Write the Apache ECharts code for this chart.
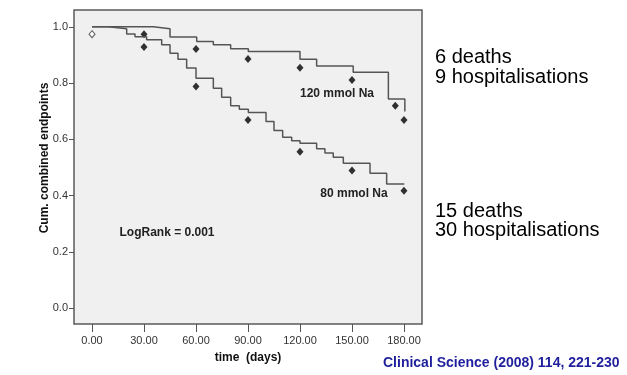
<!DOCTYPE html>
<html>
<head>
<meta charset="utf-8">
<script src="https://cdn.jsdelivr.net/npm/echarts@6/dist/echarts.min.js"></script>
<style>
  html, body { margin: 0; padding: 0; background: #fff; }
  #chart { width: 627px; height: 375px; }
</style>
</head>
<body>
<div id="chart"></div>
<script>
// Kaplan-Meier steps: time (days) and cumulative survival after each step
const days120 = [0, 35.4, 45, 60.4, 70, 80, 90.2, 120, 129.6, 150.7, 171, 180.5]
const surv120 = [1.0, 0.993, 0.964, 0.948, 0.936, 0.922, 0.912, 0.885, 0.861, 0.839, 0.743, 0.699]

const days80 = [0, 9.4, 20, 24.8, 31.5, 40.2, 45, 49.6, 54.6, 60, 70, 74.8, 80, 85, 90.2,
  100.4, 105, 110, 115.2, 120, 129.6, 134.4, 139.2, 145, 160.4, 170, 180.2]
const surv80 = [1.0, 0.993, 0.975, 0.965, 0.954, 0.936, 0.906, 0.885, 0.854, 0.817, 0.782,
  0.750, 0.719, 0.707, 0.695, 0.663, 0.631, 0.607, 0.595, 0.586, 0.566, 0.551, 0.536,
  0.515, 0.479, 0.441, 0.441]

// diamond markers
const markerDays = [30, 30, 60, 60, 90, 90, 120, 120, 150, 150, 175, 180, 180]
const markerVals = [0.974, 0.928, 0.921, 0.788, 0.886, 0.669, 0.855, 0.556, 0.811, 0.489, 0.719, 0.669, 0.417]
const openDays = [0]
const openVals = [0.974]

const xTicks = [0, 30, 60, 90, 120, 150, 180]
const yTicks = [0, 0.2, 0.4, 0.6, 0.8, 1.0]

const zip = (xs, ys) => xs.map((x, i) => [x, ys[i]])

const chart = echarts.init(document.getElementById('chart'))

const FONT = '"Liberation Sans", Arial, sans-serif'

chart.setOption({
  animation: false,
  textStyle: { fontFamily: FONT },
  grid: {
    left: 74, right: 205, top: 10, bottom: 51,
    show: true,
    backgroundColor: '#f0f0f0',
    borderColor: '#5a5a5a',
    borderWidth: 1.5
  },
  xAxis: {
    type: 'value',
    min: -10.4,
    max: 190.4,
    name: 'time  (days)',
    nameLocation: 'middle',
    nameGap: 28,
    nameTextStyle: { fontSize: 12, fontWeight: 'bold', color: '#111', fontFamily: FONT },
    axisLine: { show: false, onZero: false },
    splitLine: { show: false },
    axisTick: { show: true, customValues: xTicks, length: 8, lineStyle: { color: '#555' } },
    axisLabel: {
      customValues: xTicks,
      formatter: v => v.toFixed(2),
      margin: 11,
      fontSize: 11,
      color: '#333'
    }
  },
  yAxis: {
    type: 'value',
    min: -0.057,
    max: 1.06,
    axisLine: { show: false, onZero: false },
    splitLine: { show: false },
    axisTick: { show: true, customValues: yTicks, length: 5, lineStyle: { color: '#555' } },
    axisLabel: {
      customValues: yTicks,
      formatter: v => v.toFixed(1),
      margin: 6,
      fontSize: 11,
      color: '#333'
    }
  },
  series: [
    {
      name: '120 mmol Na',
      type: 'line',
      step: 'end',
      showSymbol: false,
      data: zip(days120, surv120),
      lineStyle: { color: '#555', width: 1.5 }
    },
    {
      name: '80 mmol Na',
      type: 'line',
      step: 'end',
      showSymbol: false,
      data: zip(days80, surv80),
      lineStyle: { color: '#555', width: 1.5 }
    },
    {
      type: 'scatter',
      symbol: 'diamond',
      symbolSize: [7, 8],
      data: zip(markerDays, markerVals),
      itemStyle: { color: '#000' }
    },
    {
      type: 'scatter',
      symbol: 'diamond',
      symbolSize: [6, 7],
      data: zip(openDays, openVals),
      itemStyle: { color: '#fff', borderColor: '#333', borderWidth: 1 }
    }
  ],
  graphic: [
    {
      type: 'text', x: 45, y: 158, rotation: Math.PI / 2,
      style: {
        text: 'Cum. combined endpoints', fill: '#111',
        font: 'bold 12px ' + FONT, align: 'center', verticalAlign: 'middle'
      }
    },
    {
      type: 'text', x: 337, y: 94,
      style: {
        text: '120 mmol Na', fill: '#222',
        font: 'bold 12px ' + FONT, align: 'center', verticalAlign: 'middle'
      }
    },
    {
      type: 'text', x: 354, y: 194,
      style: {
        text: '80 mmol Na', fill: '#222',
        font: 'bold 12px ' + FONT, align: 'center', verticalAlign: 'middle'
      }
    },
    {
      type: 'text', x: 167, y: 233,
      style: {
        text: 'LogRank = 0.001', fill: '#222',
        font: 'bold 12px ' + FONT, align: 'center', verticalAlign: 'middle'
      }
    },
    {
      type: 'text', x: 435, y: 57,
      style: { text: '6 deaths', fill: '#000', font: '20px ' + FONT, verticalAlign: 'middle' }
    },
    {
      type: 'text', x: 435, y: 77,
      style: { text: '9 hospitalisations', fill: '#000', font: '20px ' + FONT, verticalAlign: 'middle' }
    },
    {
      type: 'text', x: 435, y: 211,
      style: { text: '15 deaths', fill: '#000', font: '20px ' + FONT, verticalAlign: 'middle' }
    },
    {
      type: 'text', x: 435, y: 230,
      style: { text: '30 hospitalisations', fill: '#000', font: '20px ' + FONT, verticalAlign: 'middle' }
    },
    {
      type: 'text', x: 383, y: 363,
      style: {
        text: 'Clinical Science (2008) 114, 221-230', fill: '#1f1f9e',
        font: 'bold 14px ' + FONT, verticalAlign: 'middle'
      }
    }
  ]
})

window.addEventListener('resize', () => chart.resize())
</script>
</body>
</html>
